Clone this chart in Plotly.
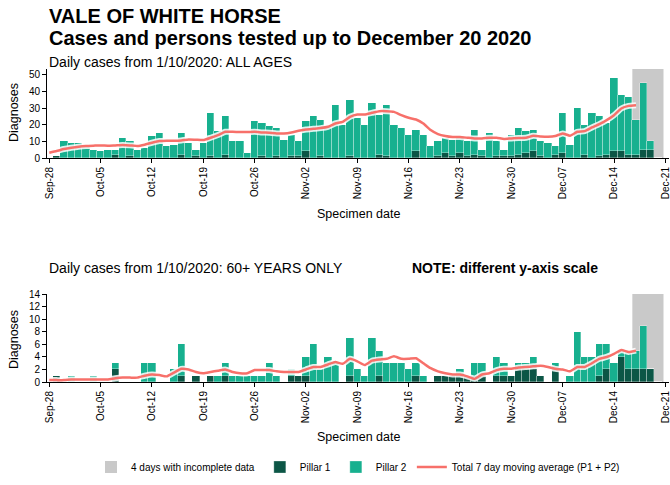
import pandas as pd
import plotly.graph_objects as go

# specimen dates, 28 Sep to 20 Dec 2020
dates = pd.date_range("2020-09-28", "2020-12-20", freq="D")

# all ages: total daily cases and pillar 1 part
total_all = [0, 1, 10, 9, 9, 8, 5, 4, 5, 5,
             12, 10, 5, 6, 13, 15, 7, 8, 15, 9,
             5, 9, 27, 16, 25, 10, 10, 3, 22, 21,
             19, 18, 11, 14, 10, 22, 25, 23, 19, 32,
             20, 35, 24, 20, 33, 26, 32, 20, 18, 14,
             17, 14, 7, 10, 12, 11, 13, 10, 17, 5,
             15, 10, 5, 14, 18, 16, 17, 10, 9, 7,
             27, 8, 30, 20, 27, 25, 21, 48, 38, 37,
             23, 45, 10, 0]
p1_all = [0, 1, 0, 0, 0, 0, 0, 0, 0, 2,
          0, 1, 0, 0, 0, 0, 0, 0, 2, 0,
          1, 0, 1, 0, 2, 0, 0, 0, 0, 1,
          0, 1, 0, 1, 1, 4, 0, 1, 0, 0,
          0, 1, 0, 0, 0, 2, 1, 0, 0, 0,
          4, 0, 0, 1, 3, 1, 3, 1, 2, 1,
          0, 1, 1, 1, 2, 3, 4, 1, 0, 2,
          3, 0, 0, 2, 0, 1, 2, 4, 4, 2,
          2, 5, 5, 0]
p2_all = [t - p for t, p in zip(total_all, p1_all)]

# 7 day moving average, all ages (ends 17 Dec)
ma_all = [3.2, 4.2, 5.4, 6.2, 6.8, 7.2, 7.4, 7.6, 7.4, 7.6,
          7.8, 7.6, 7.2, 8.0, 9.2, 10.2, 10.4, 10.4, 10.6, 11.2,
          11.0, 10.8, 12.2, 13.8, 15.8, 15.8, 15.6, 15.6, 15.8, 15.4,
          15.2, 14.8, 14.8, 15.4, 16.4, 17.2, 17.6, 18.0, 18.8, 20.8,
          21.8, 24.8, 26.2, 26.2, 27.2, 28.2, 28.2, 27.8, 25.8, 24.2,
          23.2, 20.8, 16.8, 14.4, 13.2, 12.6, 12.6, 12.2, 11.8, 11.8,
          12.2, 12.2, 11.4, 11.8, 12.0, 12.2, 13.4, 13.0, 12.8, 13.2,
          14.8, 13.4, 15.8, 16.2, 18.4, 20.4, 22.8, 25.8, 29.8, 31.4,
          31.8]

# 60+ years only
p1_60 = [0, 1, 0, 0, 0, 0, 0, 0, 0, 2,
         0, 0, 0, 0, 0, 0, 0, 0, 1, 0,
         1, 0, 1, 0, 1, 0, 0, 0, 0, 0,
         0, 0, 0, 1, 1, 1, 0, 0, 0, 0,
         0, 1, 0, 0, 0, 1, 0, 0, 0, 0,
         1, 0, 0, 1, 1, 1, 1, 1, 1, 1,
         0, 1, 1, 1, 2, 2, 2, 1, 0, 2,
         0, 0, 0, 0, 0, 1, 2, 0, 4, 2,
         2, 2, 2, 0]
p2_60 = [0, 0, 0, 1, 0, 0, 1, 0, 0, 1,
         0, 0, 0, 3, 3, 0, 0, 2, 5, 0,
         0, 0, 0, 1, 2, 1, 1, 1, 1, 1,
         3, 1, 0, 1, 0, 3, 6, 2, 4, 3,
         0, 6, 2, 1, 7, 4, 3, 3, 3, 2,
         2, 1, 0, 0, 0, 0, 1, 0, 2, 2,
         0, 3, 2, 0, 1, 1, 2, 0, 0, 1,
         0, 1, 8, 4, 4, 5, 4, 3, 1, 3,
         3, 7, 0, 0]
ma_60 = [0.3, 0.3, 0.3, 0.4, 0.4, 0.4, 0.4, 0.4, 0.4, 0.6,
         0.7, 0.7, 0.7, 1.0, 1.2, 1.1, 0.9, 1.5, 2.1, 2.0,
         1.6, 1.4, 1.6, 1.8, 2.0, 1.6, 1.4, 1.4, 1.9, 1.9,
         1.9, 1.7, 1.6, 1.6, 1.6, 2.0, 2.4, 2.4, 2.8, 3.2,
         2.9, 3.7, 3.3, 2.7, 3.4, 3.6, 3.7, 4.1, 3.7, 3.7,
         3.8, 3.0, 2.2, 1.7, 1.4, 1.2, 1.2, 0.9, 0.5, 1.2,
         1.4, 1.9, 2.1, 2.1, 2.3, 2.4, 2.5, 2.6, 2.4, 2.1,
         2.0, 1.7, 2.4, 2.4, 3.0, 3.7, 4.0, 4.5, 5.1, 4.8,
         5.0]

tick_dates = pd.date_range("2020-09-28", "2020-12-21", freq="7D")
incomplete = ("2020-12-16 12:00", "2020-12-20 18:00")

P1_COL = "#0c5646"
P2_COL = "#17b08f"
MA_COL = "#f7706a"
GREY = "#c9c9c9"
FONT = "Liberation Sans, Arial, sans-serif"

W, H = 670, 485
ML, MR = 47, 1
PW = W - ML - MR


def px_y(py):
    return 1 - py / H


def px_x(px):
    return (px - ML) / PW


fig = go.Figure()

panels = [
    ("x", "y", p1_all, p2_all, ma_all, True),
    ("x2", "y2", p1_60, p2_60, ma_60, False),
]
for xa, ya, p1, p2, ma, show in panels:
    fig.add_trace(go.Bar(
        x=dates, y=p1, xaxis=xa, yaxis=ya, name="Pillar 1",
        marker=dict(color=P1_COL, line=dict(color="rgba(255,255,255,0.6)", width=0.5)),
        showlegend=show, legendrank=2, hoverinfo="skip",
    ))
    fig.add_trace(go.Bar(
        x=dates, y=p2, xaxis=xa, yaxis=ya, name="Pillar 2",
        marker=dict(color=P2_COL, line=dict(color="rgba(255,255,255,0.6)", width=0.5)),
        showlegend=show, legendrank=3, hoverinfo="skip",
    ))
    # white halo under the average line
    fig.add_trace(go.Scatter(
        x=dates[:len(ma)], y=ma, xaxis=xa, yaxis=ya, mode="lines",
        line=dict(color="rgba(255,255,255,0.85)", width=6, shape="spline", smoothing=0.4),
        showlegend=False, hoverinfo="skip",
    ))
    fig.add_trace(go.Scatter(
        x=dates[:len(ma)], y=ma, xaxis=xa, yaxis=ya, mode="lines",
        name="Total 7 day moving average (P1 + P2)",
        line=dict(color=MA_COL, width=2.5, shape="spline", smoothing=0.4),
        showlegend=show, legendrank=4,
    ))

# grey box for the last 4 days
for i, (xa, ya) in enumerate([("x", "y"), ("x2", "y2")]):
    fig.add_shape(
        type="rect", xref=xa, yref=ya + " domain",
        x0=incomplete[0], x1=incomplete[1], y0=0, y1=1,
        fillcolor=GREY, line=dict(width=0), layer="below",
        name="4 days with incomplete data", showlegend=(i == 0), legendrank=1,
    )

xaxis_style = dict(
    range=["2020-09-27 16:30", "2020-12-21 12:00"],
    tickmode="array", tickvals=tick_dates,
    ticktext=[d.strftime("%b-%d") for d in tick_dates],
    tickangle=-90, tickfont=dict(size=10, color="black"),
    ticklabeloverflow="allow",
    showline=True, linecolor="black", linewidth=1,
    ticks="outside", ticklen=4, tickcolor="black",
    showgrid=False, zeroline=False, automargin=False,
)
yaxis_style = dict(
    showline=True, linecolor="black", linewidth=1,
    ticks="outside", ticklen=4, tickcolor="black",
    tickfont=dict(size=10, color="black"),
    showgrid=False, zeroline=False, automargin=False,
)

fig.update_layout(
    width=W, height=H,
    margin=dict(l=ML, r=MR, t=0, b=0),
    paper_bgcolor="white", plot_bgcolor="white",
    font=dict(family=FONT, color="black"),
    barmode="stack", bargap=0,
    xaxis=dict(xaxis_style, domain=[0, 1], anchor="y"),
    yaxis=dict(yaxis_style, domain=[px_y(158), px_y(69)], range=[0, 53.6],
               tickvals=[0, 10, 20, 30, 40, 50], anchor="x"),
    xaxis2=dict(xaxis_style, domain=[0, 1], anchor="y2"),
    yaxis2=dict(yaxis_style, domain=[px_y(382), px_y(294)], range=[0, 14.05],
                tickvals=list(range(0, 15, 2)), anchor="x2"),
    legend=dict(orientation="h", x=0.5, xanchor="center", y=px_y(467), yanchor="middle",
                font=dict(size=10), traceorder="normal", itemwidth=30),
)

notes = [
    ("VALE OF WHITE HORSE", 0, 16.5, 20, True),
    ("Cases and persons tested up to December 20 2020", 0, 38.5, 20, True),
    ("Daily cases from 1/10/2020: ALL AGES", 0, 62, 14, False),
    ("Daily cases from 1/10/2020: 60+ YEARS ONLY", 0, 268, 14, False),
    ("NOTE: different y-axis scale", px_x(410), 268, 14, True),
    ("Specimen date", 0.5, 214, 12.5, False),
    ("Specimen date", 0.5, 437, 12.5, False),
]
for text, x, y, size, bold in notes:
    fig.add_annotation(
        text=f"<b>{text}</b>" if bold else text,
        xref="paper", yref="paper", x=x, y=px_y(y),
        xanchor="center" if x == 0.5 else "left", yanchor="middle",
        showarrow=False, font=dict(size=size, color="black"),
    )
for y in (113, 340):
    fig.add_annotation(
        text="Diagnoses", xref="paper", yref="paper", x=px_x(14), y=px_y(y),
        textangle=-90, xanchor="center", yanchor="middle", showarrow=False,
        font=dict(size=12.5, color="black"),
    )

# drop the default page margin so the chart sits at the window's top-left corner
fig.write_html("out.html", config={"displayModeBar": False},
               post_script="document.body.style.margin='0';")
